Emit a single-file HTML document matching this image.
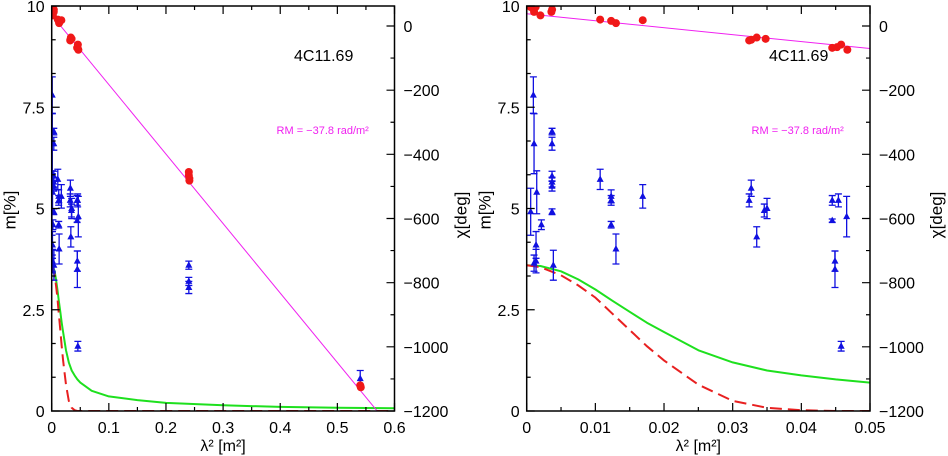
<!DOCTYPE html>
<html><head><meta charset="utf-8"><style>
html,body{margin:0;padding:0;background:#fff;width:948px;height:456px;overflow:hidden}
text{font-family:"Liberation Sans",sans-serif}
</style></head><body>
<svg id="chart" width="948" height="456" xmlns="http://www.w3.org/2000/svg"></svg>
<script>
// ---- data ----
const chiLam2 = [0.00058,0.00107,0.0013,0.0020,0.0036,0.0037,0.0107,0.0123,0.0130,0.0169,0.0324,0.0327,0.0335,0.0348,0.0445,0.0452,0.0458,0.0467,0.24,0.24,0.241,0.241,0.54,0.541];
const chiVals = [59,44,59,33,44,51,20,16,9,18,-45,-43,-36,-40,-68,-66,-58,-74,-455,-465,-475,-482,-1120,-1126];
const mLam2 = [0.00058,0.00097,0.00107,0.00107,0.00136,0.00136,0.00146,0.00214,0.00369,0.00369,0.00369,0.00369,0.00369,0.00369,0.00388,0.0107,0.0123,0.0123,0.0123,0.0130,0.0169,0.0324,0.0327,0.0335,0.0346,0.0350,0.0445,0.0445,0.0449,0.0449,0.0454,0.0458,0.0466,0.24,0.24,0.24,0.54];
const mVals = [4.92,7.8,6.6,3.65,4.1,3.7,5.4,4.6,6.9,6.6,5.8,5.65,5.55,4.92,3.6,5.72,5.3,5.2,4.6,4.0,5.3,5.2,5.5,4.3,4.95,5.0,5.2,4.7,3.7,3.5,5.2,1.6,4.8,3.6,3.2,3.05,0.8];
const mErrs = [0.58,0.45,0.74,0.2,0.33,0.29,0.53,0.12,0.08,0.16,0.12,0.12,0.12,0.07,0.37,0.25,0.16,0.12,0.08,0.37,0.29,0.16,0.2,0.25,0.16,0.25,0.12,0.04,0.25,0.45,0.16,0.12,0.5,0.1,0.1,0.15,0.2];
const curveLam2 = [0,0.002,0.005,0.0075,0.01,0.0125,0.015,0.0175,0.02,0.025,0.03,0.035,0.04,0.045,0.05,0.07,0.1,0.15,0.2,0.3,0.4,0.5,0.6];
const greenVals = [3.6,3.58,3.45,3.25,3.0,2.72,2.45,2.18,1.95,1.5,1.2,1.0,0.88,0.78,0.7,0.5,0.36,0.27,0.2,0.14,0.1,0.08,0.07];
const redVals = [3.6,3.55,3.35,3.1,2.8,2.4,2.0,1.6,1.25,0.65,0.25,0.08,0.02,0.0,0.0,0,0,0,0,0,0,0,0];
const rmChi0 = [34, 38];
const rmSlope = -2166; // deg per m^2 (RM = -37.8 rad/m^2)
const xTicksLeft = [0,0.1,0.2,0.3,0.4,0.5,0.6];
const xTicksRight = [0,0.01,0.02,0.03,0.04,0.05];
const mTicks = [0,2.5,5,7.5,10];
const mTickLabels = ["0","2.5","5","7.5","10"];
const chiTicks = [0,-200,-400,-600,-800,-1000,-1200];

const NS="http://www.w3.org/2000/svg";
const svg=document.getElementById('chart');
function el(tag,attrs,parent){const e=document.createElementNS(NS,tag);for(const k in attrs)e.setAttribute(k,attrs[k]);(parent||svg).appendChild(e);return e;}

function panel(idx,x0,x1,xmax,xTicks,xMinorStep,xLabels){
  const top=6,bot=411;
  const X=v=>x0+(v/xmax)*(x1-x0);
  const Ym=v=>bot-(v/10)*(bot-top);
  const Yc=v=>26+(-v/1200)*(bot-26);
  const g=el('g',{});
  
  
  const cid='clip'+idx;
  const cp=el('clipPath',{id:cid},g);el('rect',{x:x0,y:top,width:x1-x0,height:bot-top},cp);
  const plot=el('g',{'clip-path':'url(#'+cid+')'},g);
  let gp='',rp='';
  curveLam2.forEach((l,i)=>{if(l<=xmax+1e-9){gp+=(i?'L':'M')+X(l).toFixed(1)+','+Ym(greenVals[i]).toFixed(1);rp+=(i?'L':'M')+X(l).toFixed(1)+','+Ym(redVals[i]).toFixed(1);}});
  const gr=el('path',{d:gp,fill:'none',stroke:'#1ee01e','stroke-width':2,'stroke-linejoin':'round'},plot);
  
  
  const rd=el('path',{d:rp,fill:'none',stroke:'#e82020','stroke-width':2,'stroke-dasharray':'12,6'},plot);
  
  
  const ln=el('line',{x1:X(0),y1:Yc(rmChi0[idx]),x2:X(xmax),y2:Yc(rmChi0[idx]+rmSlope*xmax),stroke:'#f020f0','stroke-width':1},plot);
  
  
  mLam2.forEach((l,i)=>{
    if(l>xmax)return;
    const cx=X(l),cy=Ym(mVals[i]),e1=Ym(mVals[i]+mErrs[i]),e2=Ym(mVals[i]-mErrs[i]);
    const pg=el('g',{},plot);
    
    
    el('path',{d:`M${cx},${e1}V${e2}M${cx-3.5},${e1}h7M${cx-3.5},${e2}h7`,stroke:'#1010e0','stroke-width':1.3,fill:'none'},pg);
    el('path',{d:`M${cx},${cy-4}L${cx+3.5},${cy+2.5}L${cx-3.5},${cy+2.5}Z`,fill:'#1010e0'},pg);
  });
  chiLam2.forEach((l,i)=>{
    if(l>xmax)return;
    const c=el('circle',{cx:X(l),cy:Yc(chiVals[i]),r:4,fill:'#f01818'},plot);
    
    
  });
  el('rect',{x:x0,y:top,width:x1-x0,height:bot-top,fill:'none',stroke:'#000','stroke-width':1.5},g);
  let tk='';
  for(let v=0;v<=xmax+1e-9;v+=xMinorStep){const x=X(v);const maj=xTicks.some(t=>Math.abs(t-v)<1e-9);const L=maj?8:4;tk+=`M${x},${bot}v${-L}M${x},${top}v${L}`;}
  for(let v=0;v<=10+1e-9;v+=2.5/3){const y=Ym(v);const maj=mTicks.some(t=>Math.abs(t-v)<1e-6);tk+=`M${x0},${y}h${maj?8:4}`;}
  for(let v=0;v>=-1200;v-=100){const y=Yc(v);const maj=v%200===0;tk+=`M${x1},${y}h${maj?-8:-4}`;}
  el('path',{d:tk,stroke:'#000','stroke-width':1.2,fill:'none'},g);
  xTicks.forEach((v,i)=>{const t=el('text',{x:X(v),y:433,'font-size':16,'text-anchor':'middle'},g);t.textContent=xLabels[i];
    });
  mTicks.forEach((v,i)=>{const t=el('text',{x:x0-7,y:Ym(v)+6,'font-size':16,'text-anchor':'end'},g);t.textContent=mTickLabels[i];
    });
  chiTicks.forEach(v=>{const t=el('text',{x:x1+9,y:Yc(v)+6,'font-size':16,'text-anchor':'start'},g);t.textContent=(v<0?'\u2212'+(-v):String(v));
    });
  const xl=el('text',{x:(x0+x1)/2,y:451,'font-size':16,'text-anchor':'middle'},g);xl.textContent='λ² [m²]';
  
  const yl=el('text',{x:0,y:0,'font-size':17,'text-anchor':'middle',transform:`translate(${x0-36},210) rotate(-90)`,'font-family':'Liberation Serif'},g);yl.textContent='m[%]';
  
  const cl=el('text',{x:0,y:0,'font-size':17,'text-anchor':'middle',transform:`translate(${x1+72},215) rotate(-90)`,'font-family':'Liberation Serif'},g);cl.textContent='χ[deg]';
  
  const src=el('text',{x:x0+272,y:61,'font-size':16,'text-anchor':'middle','font-family':'Liberation Mono'},g);src.textContent='4C11.69';
  
  const rm=el('text',{x:x0+271,y:134,'font-size':11,'text-anchor':'middle',fill:'#f020f0','font-family':'Liberation Mono'},g);rm.textContent='RM = −37.8 rad/m²';
  
}
panel(0,51.7,394.5,0.6,xTicksLeft,0.05,["0","0.1","0.2","0.3","0.4","0.5","0.6"]);
panel(1,526.7,870,0.05,xTicksRight,0.005,["0","0.01","0.02","0.03","0.04","0.05"]);
</script>
</body></html>
